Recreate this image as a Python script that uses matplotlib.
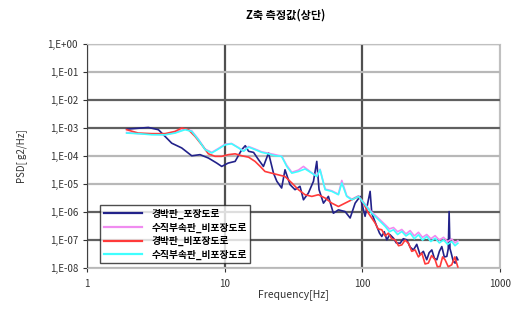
import numpy as np
import matplotlib
matplotlib.use("Agg")
import matplotlib.pyplot as plt
from matplotlib.ticker import FixedLocator, FuncFormatter, NullLocator

plt.rcParams['font.family'] = ['Noto Sans CJK KR', 'DejaVu Sans']

title = "Z축 측정값(상단)"
labels = ["경박판_포장도로", "수직부속판_비포장도로", "경박판_비포장도로", "수직부속판_비포장도로"]
colors = ['#22228a', '#f08cf0', '#ff3a3a', '#40ffff']

# frequency [Hz] and log10 PSD [g2/Hz]
f_navy = [1.94, 2.79, 3.30, 3.69, 4.12, 4.87, 5.76, 6.62, 7.61, 8.75, 9.51, 10.6, 11.9,
          13.3, 14.1, 14.9, 16.2, 17.6, 19.1, 20.8, 22.6, 23.9, 25.9, 27.4, 29.8, 32.4,
          35.2, 37.3, 40.5, 44.1, 46.6, 48.4, 52.1, 56.6, 61.5, 66.9, 74.8, 81.4, 88.5,
          96.2, 104.5, 113.7, 116.9, 127.1, 133, 138.2, 144, 150.3, 158, 168, 176, 187.8,
          198, 209.9, 222, 234.6, 248, 262, 277, 293, 305, 319, 333, 347, 362, 377, 393,
          410, 420, 426, 432, 441, 456, 471, 482, 493]
p_navy = [-3.04, -2.98, -3.06, -3.30, -3.54, -3.71, -3.99, -3.95, -4.07, -4.25, -4.37,
          -4.25, -4.19, -3.77, -3.63, -3.83, -3.87, -4.13, -4.37, -3.89, -4.61, -4.90,
          -5.14, -4.49, -5.02, -5.20, -5.08, -5.56, -5.32, -4.90, -4.19, -5.20, -5.68,
          -5.44, -6.04, -5.92, -5.98, -6.21, -5.68, -5.44, -6.15, -5.26, -6.04, -6.51,
          -6.75, -6.87, -6.70, -6.99, -6.80, -6.93, -7.10, -7.11, -6.95, -6.99, -7.25,
          -7.35, -7.15, -7.52, -7.40, -7.70, -7.45, -7.35, -7.65, -7.70, -7.40, -7.23,
          -7.60, -7.58, -7.30, -5.98, -7.30, -7.46, -7.75, -7.82, -7.60, -7.70]

f_mag = [1.94, 2.36, 2.95, 3.69, 4.36, 5.15, 5.76, 6.44, 7.20, 8.05, 8.99, 10.05, 11.2,
         12.6, 13.7, 14.9, 16.6, 18.6, 20.8, 23.2, 24.5, 25.9, 28.2, 30.7, 34.3, 37.3,
         42.9, 46.6, 49.2, 53.6, 59.9, 66.9, 70.8, 76.9, 83.7, 93.5, 104.5, 116.9, 130.7,
         146.2, 157, 168, 180, 193.1, 207, 221.9, 238, 255, 273, 293, 314, 337, 362, 388,
         415, 445, 470, 493]
p_mag = [-3.16, -3.20, -3.22, -3.24, -3.16, -3.04, -3.10, -3.40, -3.75, -3.87, -3.73,
         -3.58, -3.55, -3.70, -3.82, -3.66, -3.75, -3.85, -3.90, -3.95, -3.98, -4.00,
         -4.33, -4.58, -4.50, -4.37, -4.60, -4.70, -4.47, -5.18, -5.24, -5.36, -4.87,
         -5.42, -5.54, -5.42, -5.72, -6.00, -6.22, -6.45, -6.60, -6.55, -6.70, -6.62,
         -6.78, -6.66, -6.85, -6.72, -6.90, -6.80, -6.95, -6.84, -7.00, -6.90, -7.05,
         -6.96, -7.10, -7.02]

f_red = [1.94, 2.36, 2.95, 3.69, 4.36, 4.87, 5.45, 6.09, 6.81, 7.61, 8.51, 9.51, 10.6,
         11.9, 13.3, 14.9, 16.6, 18.1, 19.6, 21.9, 24.5, 27.4, 30.7, 34.3, 38.3, 42.9,
         47.9, 53.6, 59.9, 66.9, 74.8, 83.7, 93.5, 101.7, 110.6, 123.6, 130, 138.2, 146,
         154.5, 163, 172.7, 183, 193.1, 204, 215.9, 228, 241.3, 255, 269.8, 285, 301, 318,
         337, 350, 366, 382, 398, 420, 445, 468, 493]
p_red = [-3.06, -3.18, -3.20, -3.20, -3.12, -3.00, -3.06, -3.30, -3.60, -3.92, -4.01,
         -4.01, -3.95, -3.92, -3.99, -4.04, -4.19, -4.37, -4.55, -4.61, -4.67, -4.73,
         -4.96, -5.20, -5.38, -5.44, -5.38, -5.50, -5.68, -5.80, -5.68, -5.56, -5.44,
         -5.68, -6.04, -6.39, -6.60, -6.63, -6.85, -6.75, -6.95, -6.99, -7.20, -7.17,
         -7.00, -7.11, -7.40, -7.35, -7.60, -7.46, -7.85, -7.82, -7.55, -7.70, -7.95,
         -7.94, -7.60, -7.70, -7.95, -7.88, -7.60, -7.96]

f_cyan = [1.94, 2.36, 2.95, 3.69, 4.36, 5.15, 5.76, 6.44, 7.20, 8.05, 8.99, 10.05, 11.2,
          12.6, 13.7, 14.9, 16.6, 18.6, 20.8, 23.2, 25.9, 28.2, 30.7, 34.3, 38.3, 42.9,
          46.6, 49.2, 53.6, 59.9, 66.9, 70.8, 76.9, 83.7, 93.5, 104.5, 116.9, 130.7,
          146.2, 157, 168, 180, 193.1, 207, 221.9, 238, 255, 273, 293, 314, 337, 362, 388,
          415, 445, 470, 493]
p_cyan = [-3.18, -3.20, -3.24, -3.24, -3.18, -3.06, -3.12, -3.42, -3.77, -3.89, -3.75,
          -3.60, -3.56, -3.71, -3.83, -3.68, -3.77, -3.87, -3.92, -3.99, -4.01, -4.37,
          -4.61, -4.55, -4.46, -4.61, -4.73, -4.49, -5.20, -5.26, -5.38, -4.96, -5.44,
          -5.56, -5.44, -5.74, -6.04, -6.27, -6.51, -6.70, -6.63, -6.80, -6.69, -6.85,
          -6.75, -6.95, -6.81, -7.00, -6.87, -7.05, -6.93, -7.10, -6.99, -7.15, -7.05,
          -7.20, -7.11]

fig = plt.figure(figsize=(5.21, 3.14), dpi=100)
ax = fig.add_axes([0.167, 0.146, 0.793, 0.714])

series = [(f_navy, p_navy), (f_mag, p_mag), (f_red, p_red), (f_cyan, p_cyan)]
for (f, p), c, lab in zip(series, colors, labels):
    ax.plot(f, 10.0 ** np.array(p), color=c, lw=1.2, label=lab)

ax.set_xscale('log')
ax.set_yscale('log')
ax.set_xlim(1, 1000)
ax.set_ylim(1e-8, 1)

ax.yaxis.set_major_locator(FixedLocator([10.0 ** -k for k in range(9)]))
ax.yaxis.set_minor_locator(NullLocator())
ax.yaxis.set_major_formatter(FuncFormatter(
    lambda v, pos: "1,E+00" if v >= 1 else "1,E-%02d" % round(-np.log10(v))))
ax.xaxis.set_major_locator(FixedLocator([1, 10, 100, 1000]))
ax.xaxis.set_minor_locator(NullLocator())
ax.xaxis.set_major_formatter(FuncFormatter(lambda v, pos: "%d" % v))

ax.tick_params(axis='both', labelsize=7, colors='#333333', length=3, width=0.8)
ax.tick_params(axis='x', pad=5)

ax.grid(True, which='major', lw=1.6)
# grid shades, top (1E+00) to bottom (1E-08)
ygrid_shades = ['#555555', '#b8b8b8', '#606060', '#606060', '#b8b8b8',
                '#b8b8b8', '#606060', '#606060', '#b8b8b8']
for gl, c in zip(ax.get_ygridlines(), ygrid_shades):
    gl.set_color(c)
xgrid_shades = ['#505050', '#505050', '#505050', '#c0c0c0']
for gl, c in zip(ax.get_xgridlines(), xgrid_shades):
    gl.set_color(c)
ax.set_axisbelow(True)

for s in ['bottom', 'right', 'top']:
    ax.spines[s].set_color('#c0c0c0')
ax.spines['left'].set_color('#404040')

ax.set_title(title, fontsize=8, fontweight='bold', pad=18, x=0.48)
ax.set_xlabel("Frequency[Hz]", fontsize=7.5, color='#333333', labelpad=0)
ax.set_ylabel("PSD[ g2/Hz]", fontsize=7, color='#333333', labelpad=15)

leg = ax.legend(loc='lower left', bbox_to_anchor=(0.02, 0.0),
                prop={'size': 7, 'weight': 'bold'},
                frameon=True, fancybox=False, edgecolor='#202020',
                handlelength=4.0, borderpad=0.35, labelspacing=0.35,
                handletextpad=0.9)
leg.get_frame().set_linewidth(1.0)
for line in leg.get_lines():
    line.set_linewidth(1.6)

fig.savefig("out.png", dpi=100)
